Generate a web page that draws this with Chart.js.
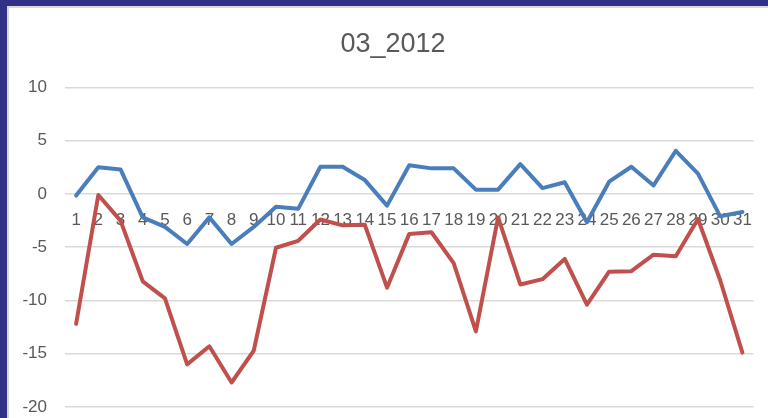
<!DOCTYPE html>
<html lang="en">

<head>
  <meta charset="UTF-8">
  <title>03_2012</title>
  <script src="https://cdn.jsdelivr.net/npm/chart.js"></script>
  <style>
    html, body {
      margin: 0;
      padding: 0;
      width: 768px;
      height: 418px;
      overflow: hidden;
      background: #2f3285;
    }

    .moldura {
      position: absolute;
      left: 7px;
      top: 6px;
      width: 761px;
      height: 412px;
      background: #ffffff;
      border-left: 2px solid #d9d9d9;
      border-top: 2px solid #d9d9d9;
    }
  </style>
</head>

<body>

  <div class="moldura">
    <canvas id="grafico" width="759" height="410"></canvas>
  </div>

</body>

<script>

  const dias = ['1', '2', '3', '4', '5', '6', '7', '8', '9', '10', '11', '12', '13', '14', '15', '16',
    '17', '18', '19', '20', '21', '22', '23', '24', '25', '26', '27', '28', '29', '30', '31'];

  const serieAzul = [-0.15, 2.5, 2.3, -2.2, -3.1, -4.7, -2.2, -4.7, -3.1, -1.2, -1.4, 2.55, 2.55, 1.3, -1.1,
    2.7, 2.4, 2.4, 0.4, 0.4, 2.8, 0.55, 1.1, -2.65, 1.15, 2.55, 0.8, 4.05, 1.9, -2.1, -1.7];

  const serieVermelha = [-12.2, -0.1, -2.5, -8.2, -9.8, -16.0, -14.3, -17.7, -14.7, -5.05, -4.4, -2.4, -2.95, -2.9, -8.8,
    -3.75, -3.6, -6.5, -12.9, -2.2, -8.5, -8.0, -6.1, -10.4, -7.3, -7.25, -5.7, -5.85, -2.35, -8.1, -14.9];

  const ticksY = [-20, -15, -10, -5, 0, 5, 10];

  var fonte = "'Liberation Sans', Arial, sans-serif";
  var corTexto = '#595959';

  function linha(dados, cor) {
    return {
      data: dados,
      borderColor: cor,
      backgroundColor: cor,
      borderWidth: 4,
      pointRadius: 0,
      tension: 0,
      borderJoinStyle: 'round',
      borderCapStyle: 'round'
    };
  }

  // o titulo do original fica um pouco mais para a direita
  const deslocaTitulo = {
    id: 'deslocaTitulo',
    afterLayout: function (chart) {
      if (chart.titleBlock) {
        chart.titleBlock.left += 18;
      }
    }
  };

  const config = {
    type: 'line',
    data: {
      labels: dias,
      datasets: [
        linha(serieVermelha, '#c0504d'),
        linha(serieAzul, '#4a7ebb')
      ]
    },
    options: {
      responsive: false,
      animation: false,
      layout: {
        padding: { left: 0, right: 9, top: 0, bottom: 11 }
      },
      plugins: {
        legend: { display: false },
        tooltip: { enabled: false },
        title: {
          display: true,
          text: '03_2012',
          color: corTexto,
          font: { family: fonte, size: 27, weight: 'normal' },
          padding: { top: 20, bottom: 27 }
        }
      },
      scales: {
        x: {
          position: { y: 0 },
          offset: true,
          afterFit: function (escala) {
            escala.height = 0;
            escala.paddingTop = 0;
            escala.paddingBottom = 0;
          },
          grid: { display: false, drawTicks: false },
          border: { display: false },
          ticks: {
            autoSkip: false,
            maxRotation: 0,
            padding: 16,
            color: corTexto,
            font: { family: fonte, size: 17 }
          }
        },
        y: {
          min: -20,
          max: 10,
          afterFit: function (escala) {
            escala.width = 56;
            escala.paddingTop = 0;
            escala.paddingBottom = 0;
          },
          afterBuildTicks: function (escala) {
            escala.ticks = ticksY.map(v => ({ value: v }));
          },
          grid: { color: '#d9d9d9', lineWidth: 1.5, drawTicks: false },
          border: { display: false },
          ticks: {
            padding: 18,
            color: corTexto,
            font: { family: fonte, size: 17 }
          }
        }
      }
    },
    plugins: [deslocaTitulo]
  };

  const meuGrafico = new Chart(
    document.getElementById('grafico'),
    config
  );

</script>

</html>
